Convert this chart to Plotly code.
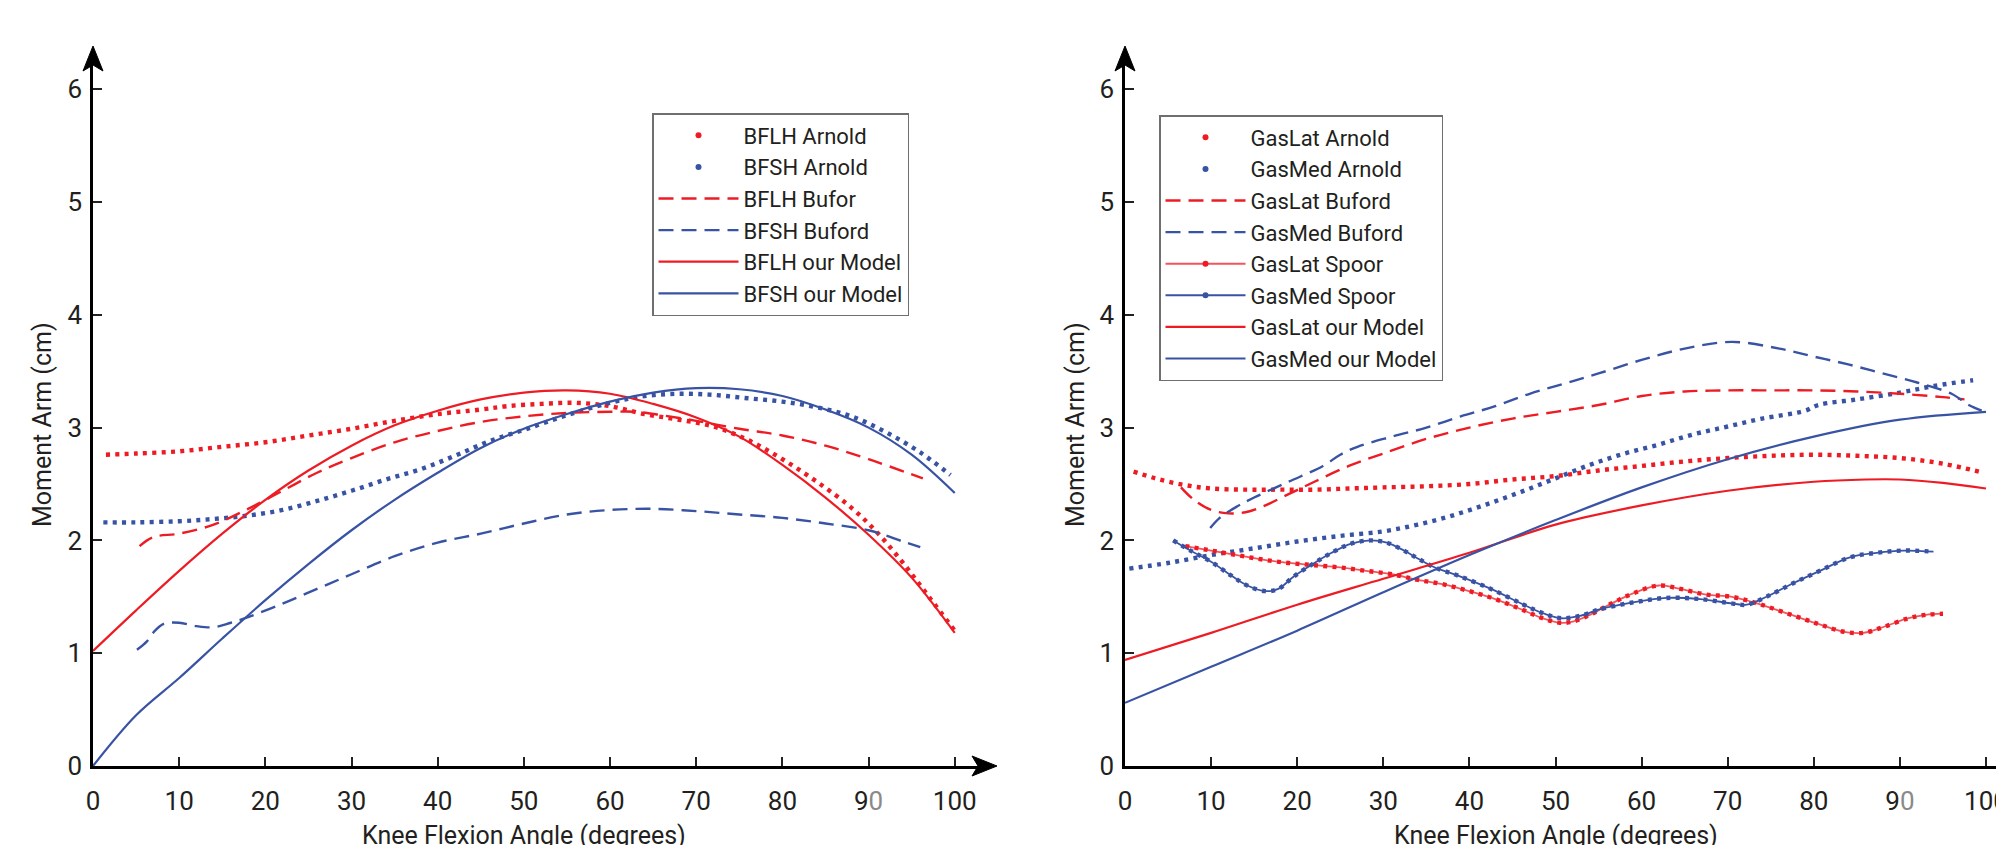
import plotly.graph_objects as go

RED = '#ED1C24'
RED_LIGHT = 'rgba(237,28,36,0.75)'
BLUE = '#3953A4'
TXT = '#231F20'
FONT = 'Roboto, Open Sans, sans-serif'

# ---------------- left panel: biceps femoris ----------------
bflh_arnold_x = [1.5, 5, 10, 15, 20, 25, 30, 35, 40, 45, 48, 52, 56, 60, 64, 68, 72, 76, 80, 84, 88, 91, 94, 97, 100]
bflh_arnold_y = [2.76, 2.77, 2.79, 2.83, 2.87, 2.93, 2.99, 3.06, 3.12, 3.16, 3.19, 3.21, 3.22, 3.19, 3.12, 3.07, 3.01, 2.89, 2.72, 2.52, 2.29, 2.07, 1.80, 1.50, 1.20]

bfsh_arnold_x = [1.2, 5, 10, 14, 18, 22, 26, 30, 34, 38, 42, 46, 50, 55, 60, 64, 68, 72, 76, 80, 84, 88, 92, 96, 99.5]
bfsh_arnold_y = [2.16, 2.16, 2.17, 2.19, 2.22, 2.27, 2.35, 2.44, 2.54, 2.63, 2.75, 2.88, 2.98, 3.11, 3.22, 3.28, 3.30, 3.29, 3.26, 3.23, 3.18, 3.10, 2.96, 2.78, 2.58]

bflh_buford_x = [5.4, 7, 10, 14, 18, 22, 26, 30, 35, 40, 45, 50, 55, 60, 63, 66, 70, 75, 80, 85, 90, 96.3]
bflh_buford_y = [1.95, 2.03, 2.06, 2.14, 2.28, 2.44, 2.60, 2.73, 2.87, 2.97, 3.05, 3.10, 3.13, 3.14, 3.14, 3.11, 3.06, 2.99, 2.93, 2.84, 2.72, 2.55]

bfsh_buford_x = [5.1, 6.2, 7.2, 8.2, 10, 12, 14, 16, 18, 22, 26, 30, 35, 40, 45, 50, 55, 60, 65, 70, 75, 80, 85, 90, 94, 96]
bfsh_buford_y = [1.03, 1.10, 1.20, 1.26, 1.27, 1.24, 1.23, 1.27, 1.32, 1.44, 1.57, 1.70, 1.86, 1.98, 2.06, 2.15, 2.23, 2.27, 2.28, 2.26, 2.23, 2.20, 2.15, 2.09, 1.99, 1.94]

bflh_model_x = [0, 5, 10, 15, 20, 25, 30, 35, 40, 45, 50, 55, 60, 65, 70, 75, 80, 85, 90, 95, 100]
bflh_model_y = [1.02, 1.38, 1.73, 2.06, 2.36, 2.62, 2.84, 3.02, 3.15, 3.25, 3.31, 3.33, 3.30, 3.21, 3.09, 2.92, 2.67, 2.38, 2.05, 1.67, 1.18]

bfsh_model_x = [0, 5, 10, 15, 20, 25, 30, 35, 40, 45, 50, 55, 60, 65, 70, 75, 80, 85, 90, 95, 100]
bfsh_model_y = [0.0, 0.45, 0.78, 1.13, 1.47, 1.79, 2.09, 2.36, 2.60, 2.82, 2.99, 3.12, 3.23, 3.31, 3.35, 3.34, 3.28, 3.16, 3.00, 2.76, 2.42]

# ---------------- right panel: gastrocnemius ----------------
gaslat_arnold_x = [1, 4, 7, 10, 14, 18, 22, 26, 30, 35, 40, 45, 50, 55, 60, 65, 70, 75, 80, 85, 90, 95, 99.7]
gaslat_arnold_y = [2.61, 2.54, 2.49, 2.46, 2.45, 2.45, 2.45, 2.46, 2.47, 2.48, 2.50, 2.54, 2.57, 2.62, 2.66, 2.70, 2.73, 2.75, 2.76, 2.75, 2.73, 2.68, 2.60]

gasmed_arnold_x = [0.5, 5, 10, 15, 20, 25, 30, 34, 38, 42, 46, 50, 54, 58, 62, 66, 70, 74, 79, 80.5, 85, 90, 94, 98.5]
gasmed_arnold_y = [1.75, 1.80, 1.87, 1.93, 1.99, 2.04, 2.08, 2.14, 2.22, 2.32, 2.43, 2.55, 2.67, 2.77, 2.85, 2.94, 3.01, 3.08, 3.15, 3.20, 3.25, 3.31, 3.37, 3.42]

gaslat_buford_x = [6.5, 8, 10, 12, 14, 16, 19, 22, 26, 30, 35, 40, 45, 50, 55, 60, 65, 70, 75, 80, 85, 90, 95, 97.5]
gaslat_buford_y = [2.47, 2.36, 2.27, 2.24, 2.25, 2.30, 2.41, 2.52, 2.66, 2.77, 2.90, 3.00, 3.08, 3.14, 3.20, 3.28, 3.32, 3.33, 3.33, 3.33, 3.32, 3.30, 3.27, 3.25]

gasmed_buford_x = [9.9, 11, 13, 15, 19, 23, 25, 27, 31, 35, 39, 43, 47, 51, 55, 60, 65, 70.5, 76, 80, 84, 88, 92, 96, 98, 99.5]
gasmed_buford_y = [2.11, 2.20, 2.30, 2.38, 2.52, 2.66, 2.76, 2.83, 2.92, 3.00, 3.10, 3.19, 3.30, 3.39, 3.48, 3.60, 3.70, 3.76, 3.70, 3.63, 3.56, 3.48, 3.40, 3.30, 3.20, 3.15]

gaslat_spoor_x = [7, 10, 13, 16, 19, 22, 25, 28, 31, 34, 37, 40, 43, 46, 48.5, 50.5, 52, 54, 56.5, 59, 62, 64.5, 67.5, 70.5, 73.5, 77, 80.5, 83.5, 85.7, 88, 91, 93, 95]
gaslat_spoor_y = [1.95, 1.91, 1.87, 1.83, 1.80, 1.78, 1.76, 1.73, 1.70, 1.65, 1.61, 1.55, 1.48, 1.39, 1.31, 1.27, 1.28, 1.34, 1.44, 1.53, 1.60, 1.57, 1.52, 1.50, 1.44, 1.35, 1.26, 1.19, 1.18, 1.23, 1.31, 1.34, 1.35]

gasmed_spoor_x = [5.6, 7.6, 10, 12.3, 14.2, 16.3, 17.8, 19.6, 22, 24, 26.2, 28.5, 30.4, 32.4, 34, 36, 38.6, 42.5, 46.3, 48.7, 50.7, 52.8, 55.2, 59, 62.9, 66.8, 70.6, 72.2, 74.5, 77.6, 80.7, 84.2, 87.3, 90.4, 93.9]
gasmed_spoor_y = [2.00, 1.91, 1.81, 1.69, 1.60, 1.55, 1.57, 1.68, 1.80, 1.89, 1.97, 2.00, 1.98, 1.91, 1.84, 1.76, 1.69, 1.57, 1.43, 1.35, 1.31, 1.33, 1.39, 1.45, 1.49, 1.48, 1.44, 1.43, 1.50, 1.62, 1.73, 1.85, 1.89, 1.91, 1.90]

gaslat_model_x = [0, 10, 20, 30, 40, 50, 60, 70, 80, 86, 90, 95, 100]
gaslat_model_y = [0.94, 1.18, 1.43, 1.66, 1.89, 2.14, 2.31, 2.44, 2.52, 2.54, 2.54, 2.51, 2.46]

gasmed_model_x = [0, 10, 20, 30, 40, 50, 60, 70, 80, 90, 100]
gasmed_model_y = [0.56, 0.88, 1.20, 1.54, 1.87, 2.18, 2.47, 2.72, 2.92, 3.07, 3.14]

x_ticks = [0, 10, 20, 30, 40, 50, 60, 70, 80, 90, 100]
x_ticktext = ['0', '10', '20', '30', '40', '50', '60', '70', '80',
              "9<span style='color:#8a8a8a'>0</span>", '100']
y_ticks = [0, 1, 2, 3, 4, 5, 6]

x_title = 'Knee Flexion Angle (degrees)'
y_title = 'Moment Arm (cm)'

DOT = '4px,5.3px'
DASH = '15px,8px'

fig = go.Figure()


def dotted(x, y, color, xa, ya, width=4.4):
    fig.add_trace(go.Scatter(x=x, y=y, mode='lines', xaxis=xa, yaxis=ya,
                             line=dict(color=color, width=width, dash=DOT, shape='spline'),
                             showlegend=False, hoverinfo='skip'))


def legend_dot(name, color, legend, rank):
    fig.add_trace(go.Scatter(x=[None], y=[None], mode='markers', name=name,
                             marker=dict(color=color, size=6), legend=legend, legendrank=rank))


def dashed(x, y, color, xa, ya, name, legend, rank):
    fig.add_trace(go.Scatter(x=x, y=y, mode='lines', xaxis=xa, yaxis=ya, name=name,
                             line=dict(color=color, width=2.4, dash=DASH, shape='spline'),
                             legend=legend, legendrank=rank))


def solid(x, y, color, xa, ya, name, legend, rank, width=2.2):
    fig.add_trace(go.Scatter(x=x, y=y, mode='lines', xaxis=xa, yaxis=ya, name=name,
                             line=dict(color=color, width=width, shape='spline'),
                             legend=legend, legendrank=rank))


def spoor(x, y, color, linecolor, xa, ya, name, legend, rank):
    fig.add_trace(go.Scatter(x=x, y=y, mode='lines', xaxis=xa, yaxis=ya,
                             line=dict(color=linecolor, width=1.8, shape='spline'),
                             showlegend=False, hoverinfo='skip'))
    dotted(x, y, color, xa, ya, width=4.4)
    fig.add_trace(go.Scatter(x=[None], y=[None], mode='lines+markers', name=name,
                             line=dict(color=linecolor, width=2),
                             marker=dict(color=color, size=6), legend=legend, legendrank=rank))


# left panel
dotted(bflh_arnold_x, bflh_arnold_y, RED, 'x', 'y')
dotted(bfsh_arnold_x, bfsh_arnold_y, BLUE, 'x', 'y')
dashed(bflh_buford_x, bflh_buford_y, RED, 'x', 'y', 'BFLH Bufor', 'legend', 3)
dashed(bfsh_buford_x, bfsh_buford_y, BLUE, 'x', 'y', 'BFSH Buford', 'legend', 4)
solid(bflh_model_x, bflh_model_y, RED, 'x', 'y', 'BFLH our Model', 'legend', 5)
solid(bfsh_model_x, bfsh_model_y, BLUE, 'x', 'y', 'BFSH our Model', 'legend', 6)
legend_dot('BFLH Arnold', RED, 'legend', 1)
legend_dot('BFSH Arnold', BLUE, 'legend', 2)

# right panel
dotted(gaslat_arnold_x, gaslat_arnold_y, RED, 'x2', 'y2')
dotted(gasmed_arnold_x, gasmed_arnold_y, BLUE, 'x2', 'y2')
dashed(gaslat_buford_x, gaslat_buford_y, RED, 'x2', 'y2', 'GasLat Buford', 'legend2', 3)
dashed(gasmed_buford_x, gasmed_buford_y, BLUE, 'x2', 'y2', 'GasMed Buford', 'legend2', 4)
spoor(gaslat_spoor_x, gaslat_spoor_y, RED, RED_LIGHT, 'x2', 'y2', 'GasLat Spoor', 'legend2', 5)
spoor(gasmed_spoor_x, gasmed_spoor_y, BLUE, BLUE, 'x2', 'y2', 'GasMed Spoor', 'legend2', 6)
solid(gaslat_model_x, gaslat_model_y, RED, 'x2', 'y2', 'GasLat our Model', 'legend2', 7)
solid(gasmed_model_x, gasmed_model_y, BLUE, 'x2', 'y2', 'GasMed our Model', 'legend2', 8)
legend_dot('GasLat Arnold', RED, 'legend2', 1)
legend_dot('GasMed Arnold', BLUE, 'legend2', 2)

W, H = 1996, 845
y_dom = [79 / H, (H - 64.4) / H]
xl_dom = [93 / W, 978 / W]
xr_dom = [1125 / W, 1.0]

tickfont = dict(family=FONT, size=26, color=TXT)
common_x = dict(showline=True, linecolor='black', linewidth=2.6, ticks='inside', ticklen=9,
                tickwidth=1.8, tickcolor='#222', tickmode='array', tickvals=x_ticks,
                ticktext=x_ticktext, tickfont=tickfont, showgrid=False, zeroline=False,
                ticklabelstandoff=10, automargin=False, ticklabeloverflow='allow')
common_y = dict(showline=True, linecolor='black', linewidth=2.6, ticks='inside', ticklen=9,
                tickwidth=1.8, tickcolor='#222', tickmode='array', tickvals=y_ticks,
                tickfont=tickfont, showgrid=False, zeroline=False, ticklabelstandoff=3,
                range=[0, 6.22], domain=y_dom, automargin=False, ticklabeloverflow='allow')

legend_common = dict(font=dict(family=FONT, size=22, color=TXT), bgcolor='white',
                     bordercolor='#6f6f6f', borderwidth=1.5, itemwidth=80,
                     xanchor='left', yanchor='top', traceorder='normal')

fig.update_layout(
    template='none',
    width=W, height=H, margin=dict(l=0, r=0, t=0, b=0, autoexpand=False),
    paper_bgcolor='white', plot_bgcolor='white',
    xaxis=dict(domain=xl_dom, range=[0, 102.7], anchor='y', **common_x),
    yaxis=dict(anchor='x', **common_y),
    xaxis2=dict(domain=xr_dom, range=[0, 101.16], anchor='y2', **common_x),
    yaxis2=dict(anchor='x2', **common_y),
    legend=dict(x=652 / W, y=1 - 113 / H, **legend_common),
    legend2=dict(x=1159 / W, y=1 - 115 / H, **legend_common),
    showlegend=True,
)

# axis titles
title_font = dict(family=FONT, size=25, color=TXT)
for xc in [(xl_dom[0] + (xl_dom[0] + (xl_dom[1] - xl_dom[0]) * 100 / 102.7)) / 2,
           (xr_dom[0] + (xr_dom[0] + (xr_dom[1] - xr_dom[0]) * 100 / 101.16)) / 2]:
    fig.add_annotation(text=x_title, x=xc, y=1 - 819 / H, xref='paper', yref='paper',
                       xanchor='center', yanchor='top', showarrow=False, font=title_font)
for xc in [42 / W, 1075 / W]:
    fig.add_annotation(text=y_title, x=xc, y=1 - 425 / H, xref='paper', yref='paper',
                       xanchor='center', yanchor='middle', textangle=-90, showarrow=False,
                       font=dict(family=FONT, size=25, color=TXT))

# axis arrowheads
up_arrow = 'M0,0 L-10,-25 L0,-19 L10,-25 Z'
right_arrow = 'M0,0 L-25,10 L-19,0 L-25,-10 Z'
for xa in [xl_dom[0], xr_dom[0]]:
    fig.add_shape(type='path', xref='paper', yref='paper', xsizemode='pixel', ysizemode='pixel',
                  xanchor=xa, yanchor=1 - 46 / H, path=up_arrow,
                  fillcolor='black', line=dict(color='black', width=1))
fig.add_shape(type='path', xref='paper', yref='paper', xsizemode='pixel', ysizemode='pixel',
              xanchor=997 / W, yanchor=y_dom[0], path=right_arrow,
              fillcolor='black', line=dict(color='black', width=1))

fig.write_html('out.html', config={'displayModeBar': False},
               post_script="document.body.style.margin='0';document.body.style.overflow='hidden';")
